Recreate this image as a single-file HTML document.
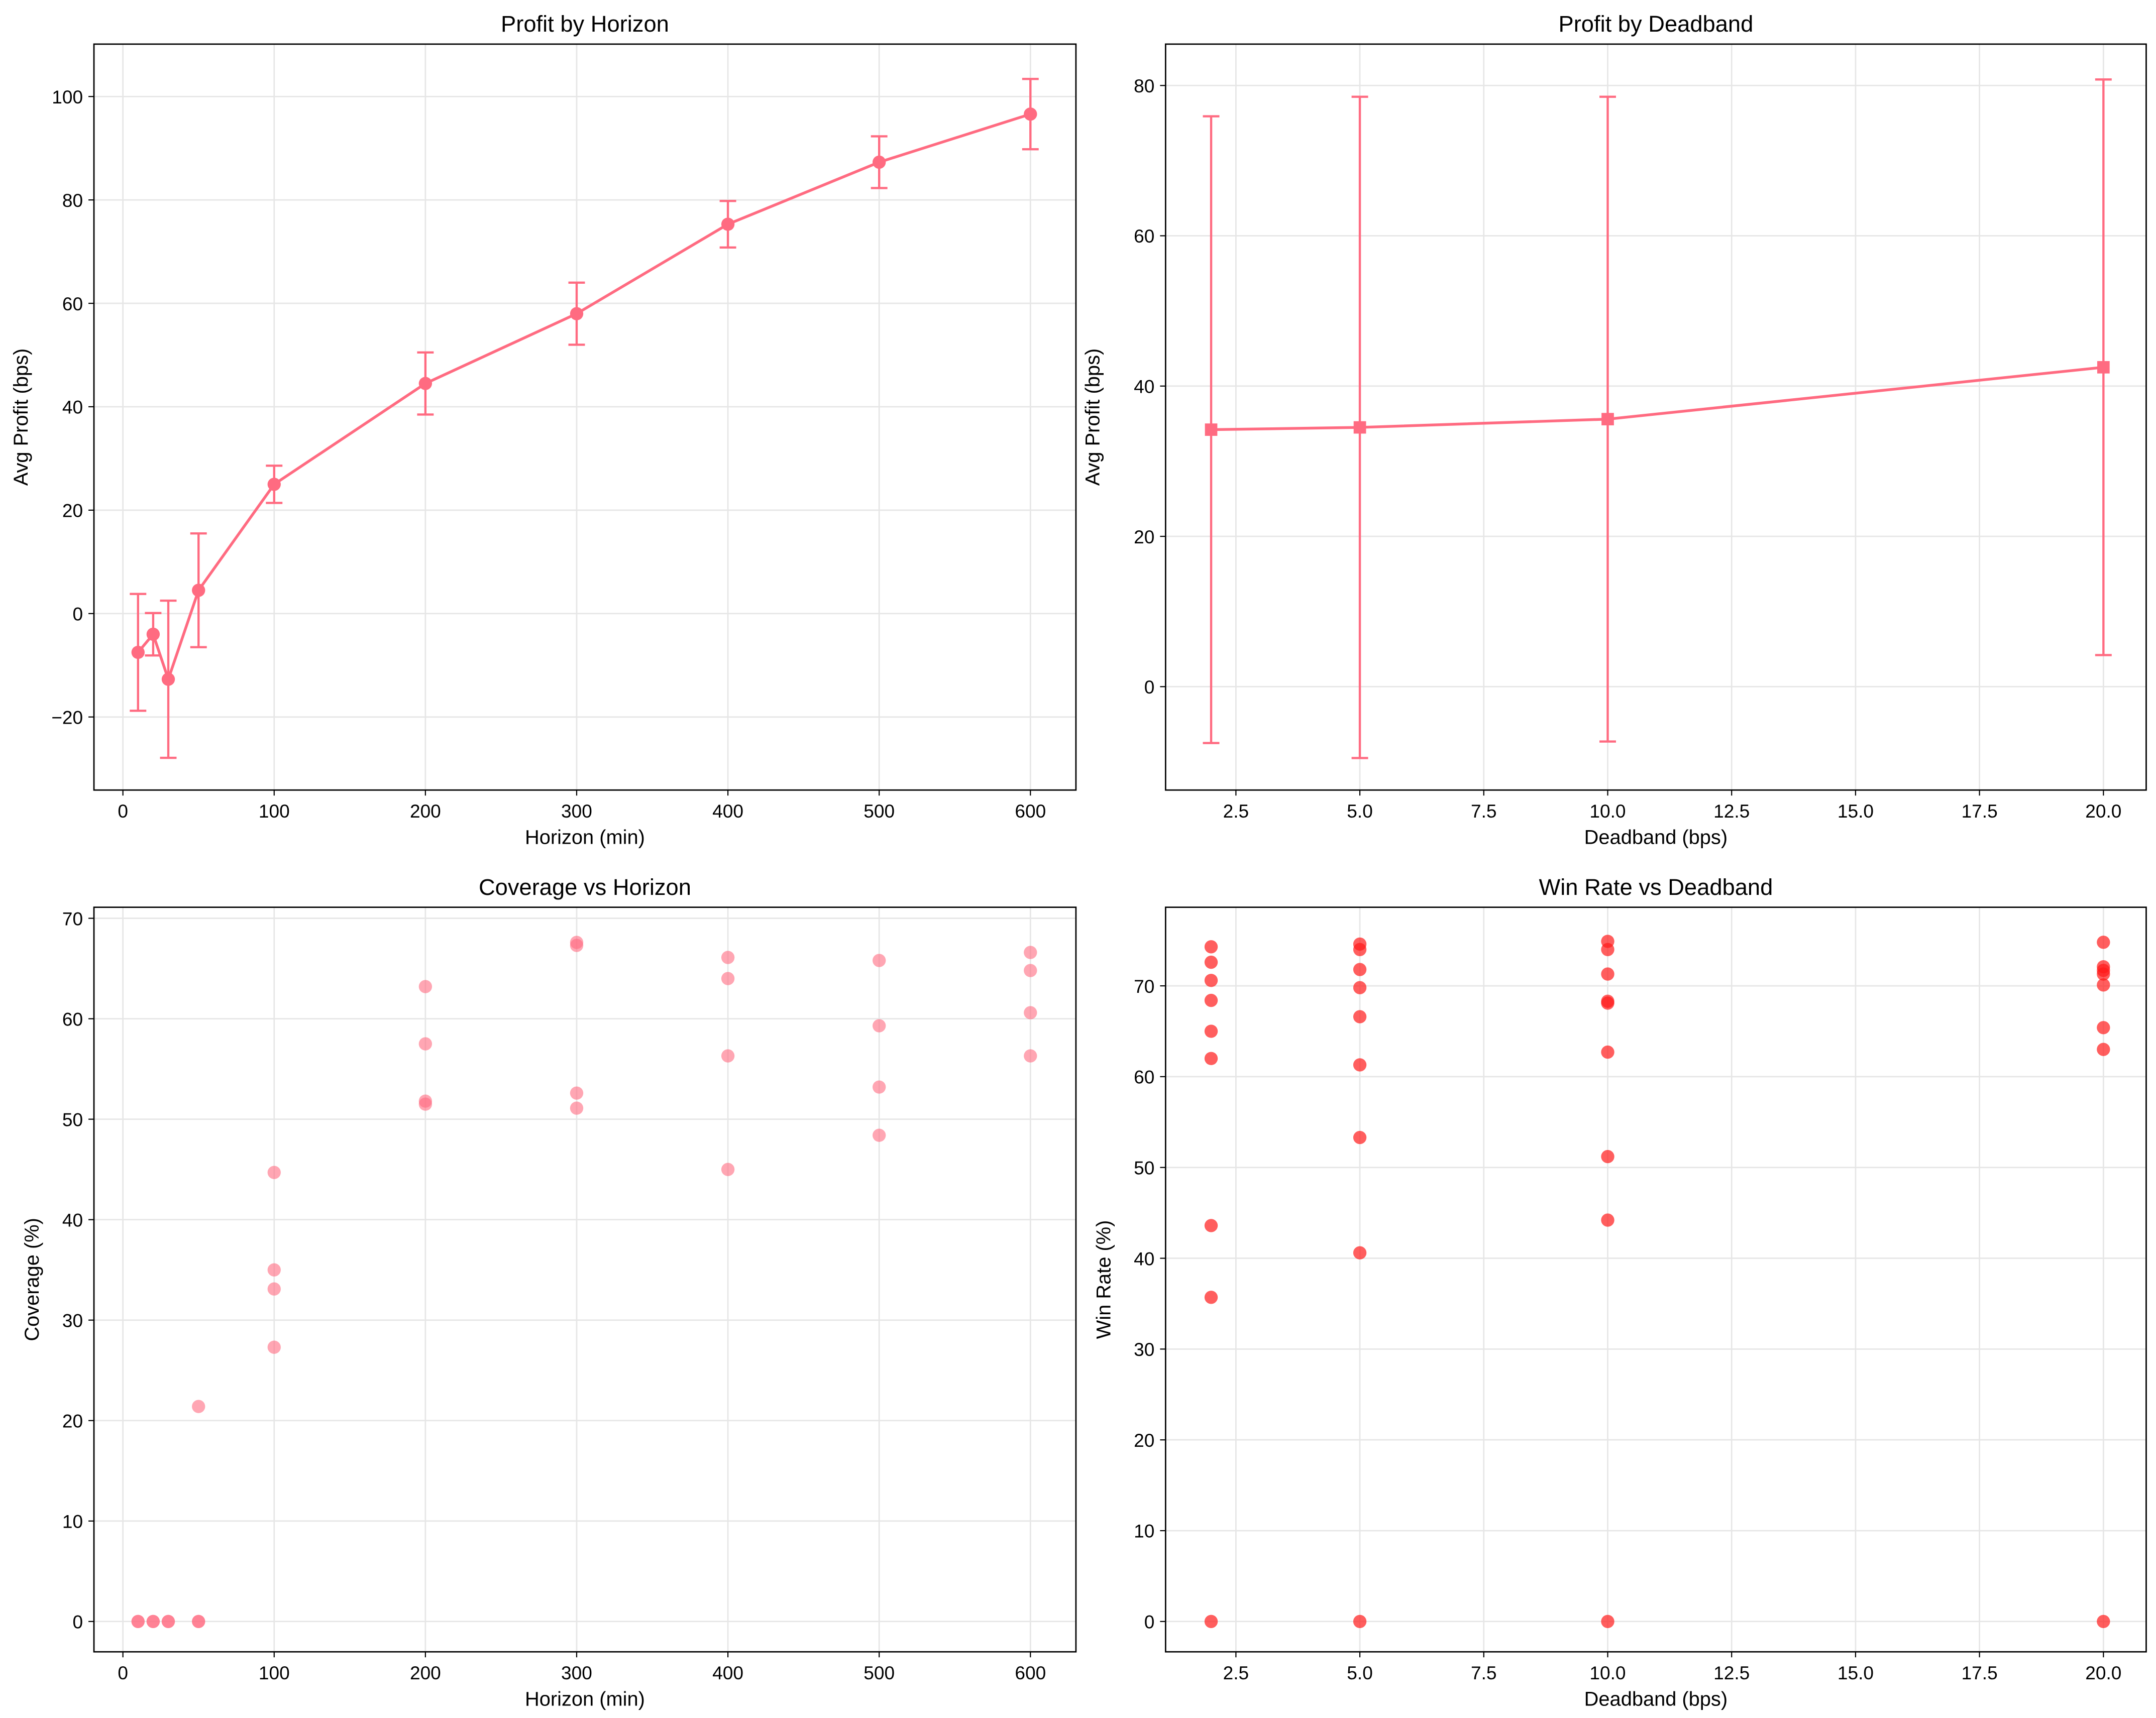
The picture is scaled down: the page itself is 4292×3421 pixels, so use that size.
<!DOCTYPE html>
<html><head><meta charset="utf-8"><style>
html,body{margin:0;padding:0;background:#fff}
svg{display:block;font-family:"Liberation Sans","DejaVu Sans",sans-serif}
</style></head><body>
<svg id="fig" width="4292" height="3421" viewBox="0 0 1563 1246" xmlns="http://www.w3.org/2000/svg"></svg>
<script>
// Panel 1 data
const horizons=[10,20,30,50,100,200,300,400,500,600];
const profitMeans=[-7.5,-4,-12.7,4.5,25,44.5,58,75.3,87.3,96.6];
const profitErr=[11.3,4.1,15.2,11,3.6,6,6,4.5,5,6.8];
// Panel 2 data
const deadbands=[2,5,10,20];
const dbMeans=[34.2,34.5,35.6,42.5];
const dbErr=[41.7,44,42.9,38.3];
// Panel 3 data
const covX=[10,20,30,50,10,20,30,50,50,100,100,100,100,200,200,200,200,300,300,300,300,400,400,400,400,500,500,500,500,600,600,600,600];
const covY=[0,0,0,0,0,0,0,0,21.4,44.7,35,33.1,27.3,63.2,57.5,51.8,51.5,67.6,67.3,52.6,51.1,66.1,64,56.3,45,65.8,59.3,53.2,48.4,66.6,64.8,60.6,56.3];
// Panel 4 data
const wrX=[2,2,2,2,2,2,2,2,2,5,5,5,5,5,5,5,5,5,10,10,10,10,10,10,10,10,10,20,20,20,20,20,20,20,20];
const wrY=[74.3,72.6,70.6,68.4,65,62,43.6,35.7,0,74.6,74,71.8,69.8,66.6,61.3,53.3,40.6,0,74.9,74,71.3,68.3,68.1,62.7,51.2,44.2,0,74.8,72.1,71.7,71.3,70.1,65.4,63,0];
const hTicks=[0,100,200,300,400,500,600];
const dTicks=[2.5,5,7.5,10,12.5,15,17.5,20];
const p1Ticks=[-20,0,20,40,60,80,100];
const p2Ticks=[0,20,40,60,80];
const p3Ticks=[0,10,20,30,40,50,60,70];
const p4Ticks=[0,10,20,30,40,50,60,70];

const NS="http://www.w3.org/2000/svg";
const svg=document.getElementById('fig');
function el(tag,attrs,parent,text){const e=document.createElementNS(NS,tag);for(const k in attrs)e.setAttribute(k,attrs[k]);if(text!==undefined)e.textContent=text;(parent||svg).appendChild(e);return e;}
function lin(d0,d1,r0,r1){return v=>r0+(v-d0)*(r1-r0)/(d1-d0);}

function panel(name,box,xs,ys,xt,yt,title,xl,yl,xfmt){
  const g=el('g',{});
  
  
  const [x0,y0,x1,y1]=box;
  xt.forEach(t=>{const x=xs(t);
    const l=el('line',{x1:x,x2:x,y1:y0,y2:y1,stroke:'#e6e6e6','stroke-width':1},g);
    
    el('line',{x1:x,x2:x,y1:y1,y2:y1+4,stroke:'#000','stroke-width':0.8},g);
    const tx=el('text',{x:x,y:y1+20,'font-size':13.5,'text-anchor':'middle',fill:'#000'},g,xfmt(t));
    
  });
  yt.forEach(t=>{const y=ys(t);
    const l=el('line',{x1:x0,x2:x1,y1:y,y2:y,stroke:'#e6e6e6','stroke-width':1},g);
    
    el('line',{x1:x0-4,x2:x0,y1:y,y2:y,stroke:'#000','stroke-width':0.8},g);
    const tx=el('text',{x:x0-8,y:y+5,'font-size':13.5,'text-anchor':'end',fill:'#000'},g,t<0?'\u2212'+Math.abs(t):String(t));
    
  });
  const r=el('rect',{x:x0,y:y0,width:x1-x0,height:y1-y0,fill:'none',stroke:'#000','stroke-width':1},g);
  
  const ti=el('text',{x:(x0+x1)/2,y:y0-9,'font-size':16.5,'text-anchor':'middle'},g,title);
  
  const xa=el('text',{x:(x0+x1)/2,y:y1+39,'font-size':14.5,'text-anchor':'middle'},g,xl);
  
  const ya=el('text',{x:0,y:0,'font-size':14.5,'text-anchor':'middle',transform:`translate(${x0-(name.includes('profit')?48:40)},${(y0+y1)/2}) rotate(-90)`},g,yl);
  
  return g;
}
const C1='#ff6b81';
// Panel 1
{const xs=lin(0,600,89,747),ys=lin(0,100,445,70);
 const g=panel('profit-by-horizon-panel',[68,32,780,573],xs,ys,hTicks,p1Ticks,'Profit by Horizon','Horizon (min)','Avg Profit (bps)',t=>String(t));
 horizons.forEach((h,i)=>{const x=xs(h),a=ys(profitMeans[i]-profitErr[i]),b=ys(profitMeans[i]+profitErr[i]);
  const e=el('path',{d:`M${x},${a}V${b}M${x-6},${a}h12M${x-6},${b}h12`,stroke:C1,'stroke-width':1.6,fill:'none'},g);
  });
 const p=el('polyline',{points:horizons.map((h,i)=>xs(h)+','+ys(profitMeans[i])).join(' '),fill:'none',stroke:C1,'stroke-width':2},g);
 
 horizons.forEach((h,i)=>{const c=el('circle',{cx:xs(h),cy:ys(profitMeans[i]),r:4.8,fill:C1},g);
  });
}
// Panel 2
{const xs=lin(2.5,20,896,1525),ys=lin(0,80,498,62);
 const g=panel('profit-by-deadband-panel',[845,32,1556,573],xs,ys,dTicks,p2Ticks,'Profit by Deadband','Deadband (bps)','Avg Profit (bps)',t=>t.toFixed(1));
 deadbands.forEach((d,i)=>{const x=xs(d),a=ys(dbMeans[i]-dbErr[i]),b=ys(dbMeans[i]+dbErr[i]);
  const e=el('path',{d:`M${x},${a}V${b}M${x-6},${a}h12M${x-6},${b}h12`,stroke:C1,'stroke-width':1.6,fill:'none'},g);
  });
 const p=el('polyline',{points:deadbands.map((d,i)=>xs(d)+','+ys(dbMeans[i])).join(' '),fill:'none',stroke:C1,'stroke-width':2},g);
 
 deadbands.forEach((d,i)=>{const s=el('rect',{x:xs(d)-4.5,y:ys(dbMeans[i])-4.5,width:9,height:9,fill:C1},g);
  });
}
// Panel 3
{const xs=lin(0,600,89,747),ys=lin(0,70,1176,666);
 const g=panel('coverage-vs-horizon-panel',[68,658,780,1198],xs,ys,hTicks,p3Ticks,'Coverage vs Horizon','Horizon (min)','Coverage (%)',t=>String(t));
 covX.forEach((h,i)=>{const c=el('circle',{cx:xs(h),cy:ys(covY[i]),r:4.8,fill:C1,'fill-opacity':0.6},g);
  });
}
// Panel 4
{const xs=lin(2.5,20,896,1525),ys=lin(0,70,1176,715);
 const g=panel('win-rate-vs-deadband-panel',[845,658,1556,1198],xs,ys,dTicks,p4Ticks,'Win Rate vs Deadband','Deadband (bps)','Win Rate (%)',t=>t.toFixed(1));
 wrX.forEach((d,i)=>{const c=el('circle',{cx:xs(d),cy:ys(wrY[i]),r:4.8,fill:'#ff1a1a','fill-opacity':0.7},g);
  });
}
</script>
</body></html>
